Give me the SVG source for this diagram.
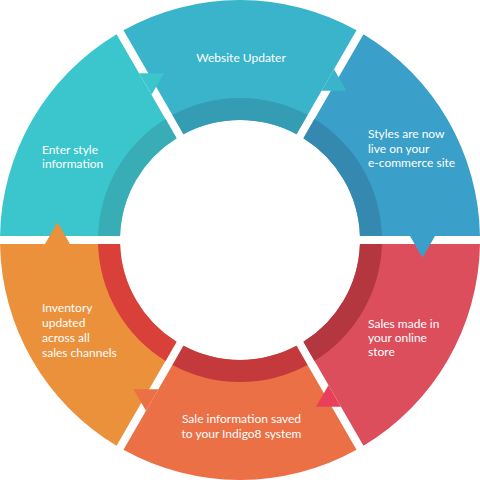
<svg xmlns="http://www.w3.org/2000/svg" xmlns:xlink="http://www.w3.org/1999/xlink" width="480" height="480" viewBox="0 0 480 480">
<style>
.lbl{font-family:Lato,"Open Sans","Liberation Sans",sans-serif;font-size:12px;fill:#ffffff}
.mid{text-anchor:middle}
</style>
<defs>
<path id="seg" d="M123.48,30.18 A240,240 0 0 1 356.52,30.18 L296.50,134.13 A120,120 0 0 0 183.50,134.13 Z"/>
<path id="band" d="M172.49,115.07 A142,142 0 0 1 307.51,115.07 L296.50,134.13 A120,120 0 0 0 183.50,134.13 Z"/>
<path id="tri" d="M410,236 L435,236 L422.5,257.65 Z"/>
</defs>
<rect width="480" height="480" fill="#ffffff"/>
<g id="node-website-updater">
<use xlink:href="#seg" fill="#3AB4CB"/>
<use xlink:href="#band" fill="#359DB3"/>
<text class="lbl mid" x="241" y="62">Website Updater</text>
</g>
<g id="node-styles-live">
<use xlink:href="#seg" fill="#3A9FC9" transform="rotate(60 240 240)"/>
<use xlink:href="#band" fill="#3589B0" transform="rotate(60 240 240)"/>
<text class="lbl" x="368" y="138">Styles are now</text>
<text class="lbl" x="368" y="152.5">live on your</text>
<text class="lbl" x="368" y="167">e-commerce site</text>
</g>
<g id="node-sales-made">
<use xlink:href="#seg" fill="#DC4E5B" transform="rotate(120 240 240)"/>
<use xlink:href="#band" fill="#B4363F" transform="rotate(120 240 240)"/>
<text class="lbl" x="368" y="328">Sales made in</text>
<text class="lbl" x="368" y="342">your online</text>
<text class="lbl" x="368" y="356">store</text>
</g>
<g id="node-sale-info-saved">
<use xlink:href="#seg" fill="#EB7045" transform="rotate(180 240 240)"/>
<use xlink:href="#band" fill="#C4393B" transform="rotate(180 240 240)"/>
<text class="lbl mid" x="241.5" y="423">Sale information saved</text>
<text class="lbl mid" x="241.5" y="438">to your Indigo8 system</text>
</g>
<g id="node-inventory-updated">
<use xlink:href="#seg" fill="#EB913C" transform="rotate(240 240 240)"/>
<use xlink:href="#band" fill="#D9403A" transform="rotate(240 240 240)"/>
<text class="lbl" x="42" y="312">Inventory</text>
<text class="lbl" x="42" y="327">updated</text>
<text class="lbl" x="42" y="342">across all</text>
<text class="lbl" x="42" y="357">sales channels</text>
</g>
<g id="node-enter-style">
<use xlink:href="#seg" fill="#3AC6CC" transform="rotate(300 240 240)"/>
<use xlink:href="#band" fill="#38ADB5" transform="rotate(300 240 240)"/>
<text class="lbl" x="42" y="154">Enter style</text>
<text class="lbl" x="42" y="168">information</text>
</g>
<g id="connectors">
<use xlink:href="#tri" fill="#3A9FC9"/>
<use xlink:href="#tri" fill="#E8405A" transform="rotate(60 240 240)"/>
<use xlink:href="#tri" fill="#EB7045" transform="rotate(120 240 240)"/>
<use xlink:href="#tri" fill="#EB913C" transform="rotate(180 240 240)"/>
<use xlink:href="#tri" fill="#3AC6CC" transform="rotate(240 240 240)"/>
<use xlink:href="#tri" fill="#3AB4CB" transform="rotate(300 240 240)"/>
</g>
</svg>
